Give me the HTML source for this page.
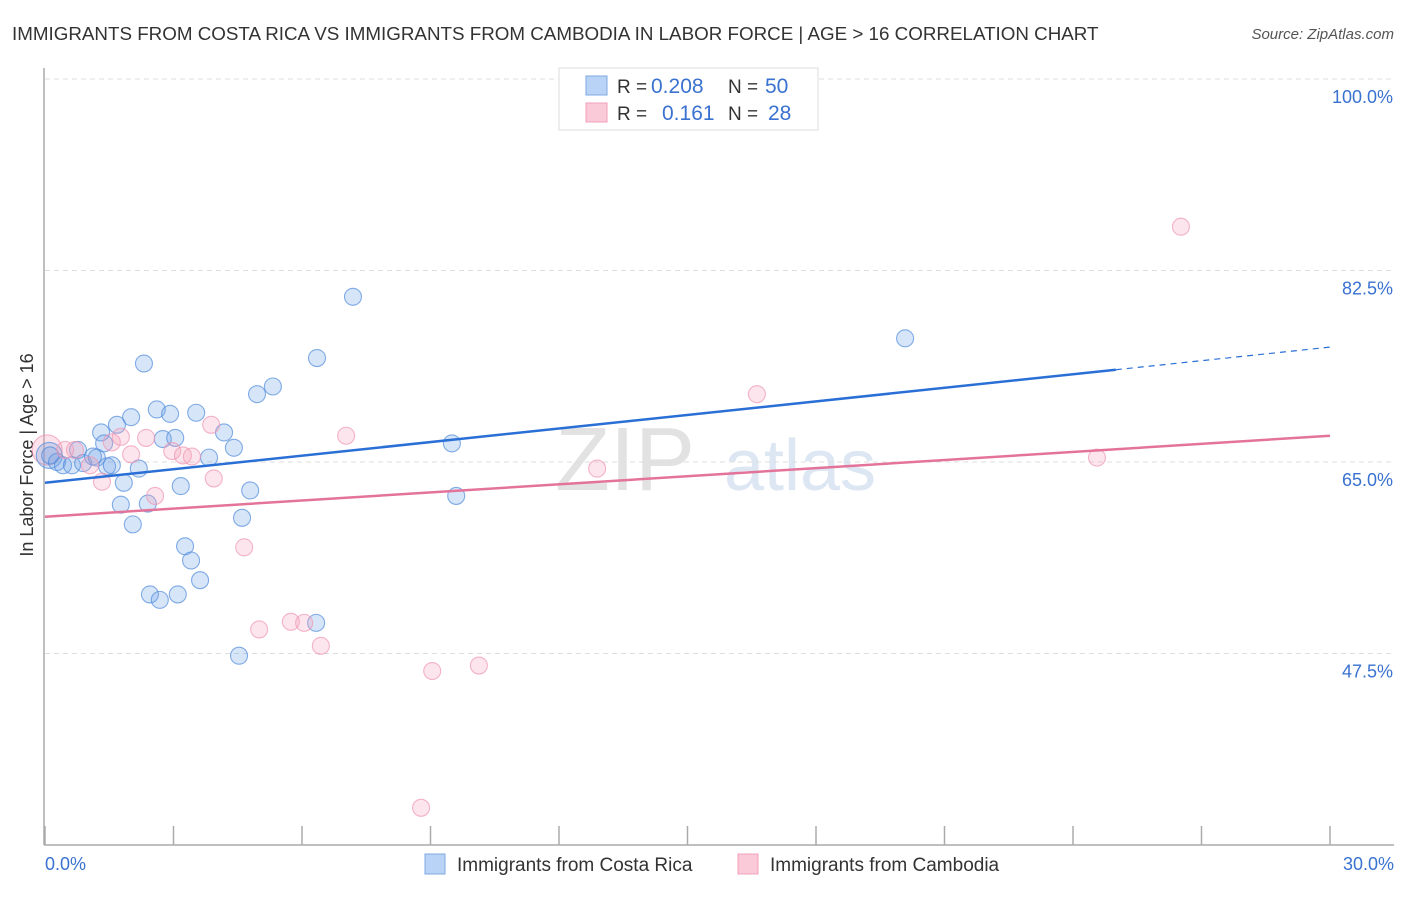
<!DOCTYPE html>
<html><head><meta charset="utf-8"><style>
body{margin:0;background:#fff;font-family:"Liberation Sans",sans-serif;}
svg text{font-family:"Liberation Sans",sans-serif;}
</style></head><body>
<svg id="chart" width="1406" height="892" xmlns="http://www.w3.org/2000/svg">
<text x="12" y="40" font-size="18.8" fill="#333">IMMIGRANTS FROM COSTA RICA VS IMMIGRANTS FROM CAMBODIA IN LABOR FORCE | AGE &gt; 16 CORRELATION CHART</text>
<text x="1394" y="39" font-size="15" fill="#555" text-anchor="end" font-style="italic">Source: ZipAtlas.com</text>
<text x="625" y="490" font-size="90" fill="#e2e2e2" font-family="Liberation Serif" text-anchor="middle">ZIP</text>
<text x="800" y="490" font-size="72" fill="#dde6f3" text-anchor="middle">atlas</text>
<text transform="translate(33,455) rotate(-90)" font-size="18" fill="#333" text-anchor="middle">In Labor Force | Age &gt; 16</text>
<g id="grid"></g><g id="axes"></g><g id="marks"></g>
<g>
<rect x="559" y="68" width="259" height="62" fill="#fff" stroke="#ddd"/>
<rect x="586" y="76" width="21" height="19" fill="#b8d3f5" stroke="#7ea8e0"/>
<rect x="586" y="103" width="21" height="19" fill="#fbcad8" stroke="#f0a0b8"/>
<text x="617" y="93" font-size="19" fill="#333">R = <tspan x="651" font-size="21" fill="#3a72d0">0.208</tspan><tspan x="728">N = </tspan><tspan x="765" font-size="21" fill="#3a72d0">50</tspan></text>
<text x="617" y="120" font-size="19" fill="#333">R = <tspan x="662" font-size="21" fill="#3a72d0">0.161</tspan><tspan x="728">N = </tspan><tspan x="768" font-size="21" fill="#3a72d0">28</tspan></text>
</g>
<g>
<rect x="425" y="854" width="20" height="20" fill="#b8d3f5" stroke="#7ea8e0"/>
<text x="457" y="871" font-size="19" fill="#333">Immigrants from Costa Rica</text>
<rect x="738" y="854" width="20" height="20" fill="#fbcad8" stroke="#f0a0b8"/>
<text x="770" y="871" font-size="19" fill="#333">Immigrants from Cambodia</text>
</g>
</svg>
<script>
const blueX=[0.12,0.28,0.42,0.63,0.77,0.89,1.12,1.21,1.31,1.38,1.45,1.56,1.68,1.84,1.77,2.01,2.05,2.19,2.31,2.40,2.45,2.61,2.68,2.75,2.92,3.04,3.10,3.17,3.27,3.41,3.53,3.62,3.83,4.18,4.41,4.53,4.60,4.79,4.95,5.32,6.33,6.35,7.19,9.50,9.60,20.08];
const blueY=[65.6,65.0,64.7,64.7,66.1,64.9,65.5,65.4,67.7,66.7,64.6,64.7,68.4,63.1,61.1,69.1,59.3,64.4,74.0,61.2,52.9,69.8,52.4,67.1,69.4,67.2,52.9,62.8,57.3,56.0,69.5,54.2,65.4,67.7,66.3,47.3,59.9,62.4,71.2,71.9,50.3,74.5,80.1,66.7,61.9,76.3];
const pinkX=[0.47,0.70,1.05,1.33,1.56,1.77,2.01,2.36,2.57,2.97,3.22,3.43,3.88,3.94,4.65,5.00,5.74,6.05,6.44,7.03,9.04,8.78,10.13,12.89,16.62,24.56,26.52];
const pinkY=[66.1,66.1,64.7,63.2,66.8,67.3,65.7,67.2,61.9,66.0,65.6,65.5,68.4,63.5,57.2,49.7,50.4,50.3,48.2,67.4,45.9,33.4,46.4,64.4,71.2,65.4,86.5];
const bigX=[0.05,0.1];const bigY=[66.1,65.6];
const blueTrend=[63.1,75.5]; const pinkTrend=[60.0,67.4];
const yTicks=[100,82.5,65,47.5];
const xTickLabels=["0.0%","30.0%"];
const NS="http://www.w3.org/2000/svg";
const sx=v=>45+v/30*1285, sy=v=>79+(100-v)*10.943;
function mk(tag,attrs,parent){const e=document.createElementNS(NS,tag);for(const k in attrs)e.setAttribute(k,attrs[k]);parent.appendChild(e);return e;}
const grid=document.getElementById('grid'),axes=document.getElementById('axes'),marks=document.getElementById('marks');
yTicks.forEach(t=>{const l=mk('line',{x1:45,x2:1394,y1:sy(t),y2:sy(t),stroke:'#ddd','stroke-dasharray':'5,4'},grid);


const tx=mk('text',{x:1393,y:sy(t)+24,'font-size':18,fill:'#3a72d0','text-anchor':'end'},axes);tx.textContent=t.toFixed(1)+'%';

});
const ax=mk('line',{x1:44,x2:1394,y1:845,y2:845,stroke:'#aaa','stroke-width':1.5},axes);


const ay=mk('line',{x1:44,x2:44,y1:68,y2:845,stroke:'#aaa','stroke-width':1.5},axes);


for(let i=0;i<=10;i++){const t=mk('line',{x1:sx(i*3),x2:sx(i*3),y1:826,y2:845,stroke:'#aaa','stroke-width':1.5},axes);

}
[[0,'start',45],[30,'end',1394]].forEach((d,i)=>{const t=mk('text',{x:d[2],y:870,'font-size':18,fill:'#3a72d0','text-anchor':d[1]},axes);t.textContent=xTickLabels[i];

});
function dot(x,y,r,fill,stroke,name){const c=mk('circle',{cx:sx(x),cy:sy(y),r:r,fill:fill,stroke:stroke,'stroke-width':1.1},marks);

}
dot(bigX[0],bigY[0],15,'rgba(245,160,185,0.3)','rgba(240,150,180,0.7)','cambodia-point-large');
dot(bigX[1],bigY[1],13,'rgba(110,160,230,0.3)','rgba(80,140,220,0.7)','costa-rica-point-large');
blueX.forEach((x,i)=>dot(x,blueY[i],8.5,'rgba(110,160,230,0.28)','rgba(80,140,220,0.7)','costa-rica-point'));
pinkX.forEach((x,i)=>dot(x,pinkY[i],8.5,'rgba(245,160,185,0.28)','rgba(240,150,180,0.7)','cambodia-point'));
const bAt=v=>blueTrend[0]+(blueTrend[1]-blueTrend[0])*v/30;
const bl=mk('line',{x1:sx(0),y1:sy(bAt(0)),x2:sx(25),y2:sy(bAt(25)),stroke:'#2a6fd6','stroke-width':2.5},marks);


const bd=mk('line',{x1:sx(25),y1:sy(bAt(25)),x2:sx(30),y2:sy(bAt(30)),stroke:'#2a6fd6','stroke-width':1.2,'stroke-dasharray':'6,5'},marks);


const pl=mk('line',{x1:sx(0),y1:sy(pinkTrend[0]),x2:sx(30),y2:sy(pinkTrend[1]),stroke:'#e4739a','stroke-width':2.5},marks);


</script>
</body></html>
